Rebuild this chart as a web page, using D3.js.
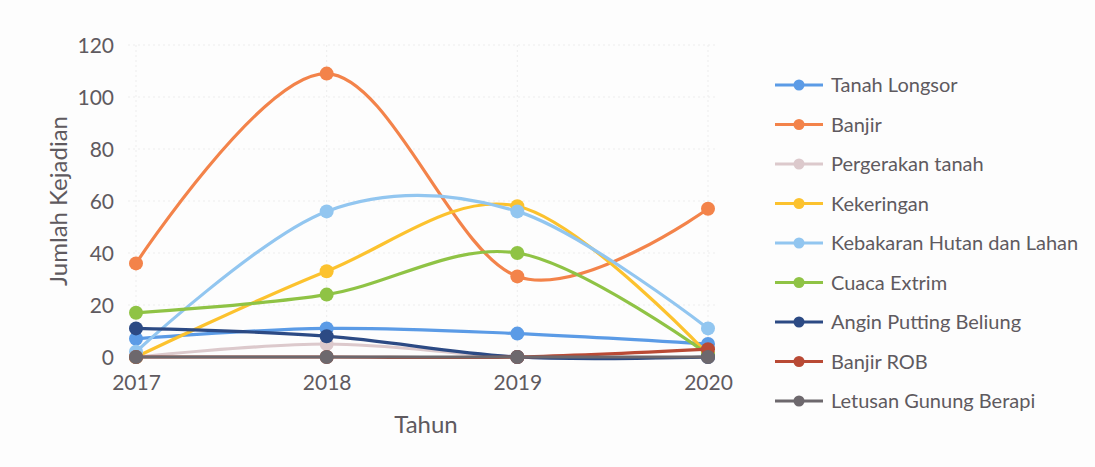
<!DOCTYPE html>
<html>
<head>
<meta charset="utf-8">
<script src="https://cdn.jsdelivr.net/npm/d3@7/dist/d3.min.js"></script>
<style>
  html, body { margin: 0; padding: 0; background: #fdfdfd; }
  svg { display: block; }
  text { font-family: "Lato", "Open Sans", sans-serif; fill: #5f5a5f; }
</style>
</head>
<body>
<svg id="chart" width="1095" height="467"></svg>
<script>
// Years on the x axis
const years = ["2017", "2018", "2019", "2020"];
// Y axis ticks
const yTicks = [0, 20, 40, 60, 80, 100, 120];

// Disaster series (events per year)
const tanahLongsor    = [7, 11, 9, 5];
const banjir          = [36, 109, 31, 57];
const pergerakanTanah = [0, 5, 0, 0];
const kekeringan      = [0, 33, 58, 1];
const kebakaran       = [2, 56, 56, 11];
const cuacaExtrim     = [17, 24, 40, 1];
const anginPutting    = [11, 8, 0, 0];
const banjirRob       = [0, 0, 0, 3];
const letusan         = [0, 0, 0, 0];

const seriesNames = [
  "Tanah Longsor", "Banjir", "Pergerakan tanah", "Kekeringan",
  "Kebakaran Hutan dan Lahan", "Cuaca Extrim", "Angin Putting Beliung",
  "Banjir ROB", "Letusan Gunung Berapi"
];
const seriesValues = [
  tanahLongsor, banjir, pergerakanTanah, kekeringan,
  kebakaran, cuacaExtrim, anginPutting, banjirRob, letusan
];
const seriesColors = [
  "#5b9be6", "#f3834a", "#dcc9cc", "#fcc22e",
  "#92c6f0", "#8fc345", "#2c4a84", "#b94a35", "#6d686d"
];

const svg = d3.select("#chart");

const x = d3.scalePoint().domain(years).range([136, 708]);
const y = d3.scaleLinear().domain([0, 120]).range([357, 45]);

// faint dotted grid
const grid = svg.append("g");
grid.selectAll("line.h").data(yTicks.filter(d => d > 0)).join("line")
  .attr("x1", 128).attr("x2", 716)
  .attr("y1", d => y(d)).attr("y2", d => y(d))
  .attr("stroke", "#ededed").attr("stroke-width", 1)
  .attr("stroke-dasharray", "2,3");
grid.selectAll("line.v").data(years).join("line")
  .attr("x1", d => x(d)).attr("x2", d => x(d))
  .attr("y1", y(120)).attr("y2", y(0))
  .attr("stroke", "#ededed").attr("stroke-width", 1)
  .attr("stroke-dasharray", "2,3");

// y axis
const yAxis = svg.append("g")
  .attr("transform", "translate(114,0)")
  .call(d3.axisLeft(y).tickValues(yTicks).tickSize(0).tickPadding(0));
yAxis.select(".domain").remove();
yAxis.selectAll("text")
  .style("font-size", "21px")
  .attr("dy", "0.35em")
  .attr("fill", "#5f5a5f");

// x axis
const xAxis = svg.append("g")
  .attr("transform", "translate(0,375)")
  .call(d3.axisBottom(x).tickSize(0).tickPadding(0));
xAxis.select(".domain").remove();
xAxis.selectAll("text")
  .style("font-size", "21px")
  .attr("dy", "0.71em")
  .attr("fill", "#5f5a5f");

// axis titles
svg.append("text")
  .attr("transform", "translate(67,201) rotate(-90)")
  .attr("text-anchor", "middle")
  .style("font-size", "24px")
  .text("Jumlah Kejadian");
svg.append("text")
  .attr("x", 426).attr("y", 433)
  .attr("text-anchor", "middle")
  .style("font-size", "24px")
  .text("Tahun");

// smoothed series lines with markers
const line = d3.line()
  .x((d, i) => x(years[i]))
  .y(d => y(d))
  .curve(d3.curveCatmullRom.alpha(0));

const plot = svg.append("g");
seriesValues.forEach((vals, s) => {
  const g = plot.append("g");
  g.append("path")
    .attr("d", line(vals))
    .attr("fill", "none")
    .attr("stroke", seriesColors[s])
    .attr("stroke-width", 3.2)
    .attr("stroke-linejoin", "round");
  g.selectAll("circle").data(vals).join("circle")
    .attr("cx", (d, i) => x(years[i]))
    .attr("cy", d => y(d))
    .attr("r", 7)
    .attr("fill", seriesColors[s]);
});

// legend
const legend = svg.append("g");
const legendY = d3.scalePoint().domain(seriesNames).range([85, 401]);
seriesNames.forEach((name, s) => {
  const ly = legendY(name);
  legend.append("line")
    .attr("x1", 775).attr("x2", 823)
    .attr("y1", ly).attr("y2", ly)
    .attr("stroke", seriesColors[s]).attr("stroke-width", 3);
  legend.append("circle")
    .attr("cx", 799).attr("cy", ly).attr("r", 5.5)
    .attr("fill", seriesColors[s]);
  legend.append("text")
    .attr("x", 831).attr("y", ly)
    .attr("dy", "0.35em")
    .style("font-size", "20px")
    .text(name);
});
</script>
</body>
</html>
